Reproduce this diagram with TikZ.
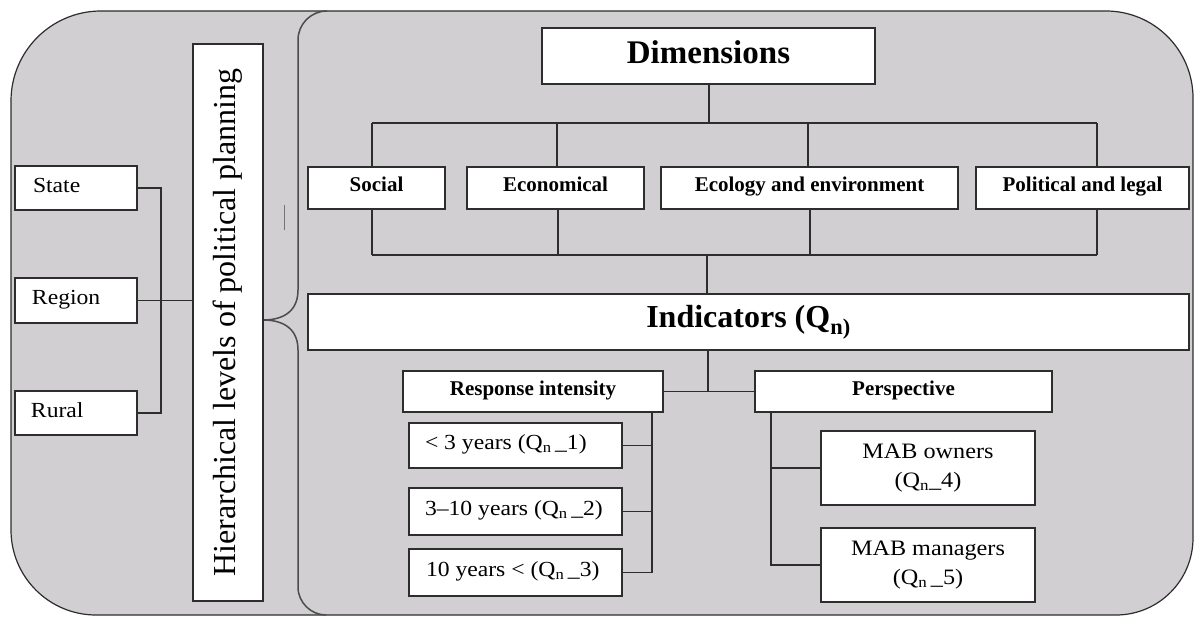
\documentclass[tikz,border=0pt]{standalone}
\usepackage{fontspec}
\setmainfont{Liberation Serif}
\newfontfamily\widefont[FakeStretch=1.1]{Liberation Serif}
\usetikzlibrary{calc}
\definecolor{bggray}{RGB}{209,207,209}
\definecolor{linec}{RGB}{45,45,45}
\newcommand{\lbtext}[3]{\makebox[#1][l]{\hspace*{#2}#3}}
\begin{document}
\begin{tikzpicture}[x=1pt,y=-1pt,
  box/.style={draw=linec, fill=white, line width=1.2pt, inner sep=0pt},
  conn/.style={draw=linec, line width=1.2pt},
  bsmall/.style={font=\fontsize{21}{25}\selectfont\bfseries, text height=14pt, text depth=6pt},
  rsmall/.style={font=\widefont\fontsize{21.5}{25}\selectfont, text height=14pt, text depth=5.5pt},
  rmab/.style={font=\widefont\fontsize{22}{29}\selectfont, align=center}]
\useasboundingbox (0,0) rectangle (1194,617);
% outer panel
\draw[fill=bggray, draw=linec, line width=1.2pt]
  (101,11) -- (1106,11) .. controls (1154,11) and (1193,50) .. (1193,98)
  -- (1193,538) .. controls (1193,580.5) and (1158.5,615) .. (1116,615)
  -- (96,615) .. controls (49.1,615) and (11,576.9) .. (11,530)
  -- (11,101) .. controls (11,51.3) and (51.3,11) .. (101,11) -- cycle;
% inner brace
\draw[draw=black!70, line width=1.5pt]
  (327,11) .. controls (311,11) and (298,24) .. (298,40)
  -- (298,290) .. controls (298,310) and (285,320) .. (263,320)
  .. controls (285,320) and (298,330) .. (298,350)
  -- (298,587) .. controls (298,602.5) and (311,615) .. (326,615);
\draw[black!55, line width=0.8pt] (284,205) -- (284,230);

% left column
\node[box, rotate=90, minimum width=557pt, minimum height=70pt,
      font=\fontsize{32}{36}\selectfont] (hier) at (228,322.5) {Hierarchical levels of political planning};
\node[box, rsmall, minimum width=122pt, minimum height=44pt] (state) at (76,188) {\lbtext{122pt}{18pt}{State}};
\node[box, rsmall, minimum width=122pt, minimum height=45pt] (region) at (76,300.5) {\lbtext{122pt}{17pt}{Region}};
\node[box, rsmall, minimum width=122pt, minimum height=44pt] (rural) at (76,413) {\lbtext{122pt}{16pt}{Rural}};
\coordinate (jl) at (161,0);
\draw[conn] (state.east) -| (jl |- rural.east) -- (rural.east);
\draw[conn] (region.east) -- (region.east -| hier.north);

% dimensions
\node[box, minimum width=333pt, minimum height=56pt, text depth=8pt, font=\fontsize{33}{38}\selectfont\bfseries] (dims) at (708.5,56) {Dimensions};
\node[box, bsmall, minimum width=137pt, minimum height=42pt] (soc) at (376.5,188) {Social};
\node[box, bsmall, minimum width=177pt, minimum height=42pt] (eco) at (555.5,188) {Economical};
\node[box, bsmall, minimum width=297pt, minimum height=42pt] (env) at (809.5,188) {Ecology and environment};
\node[box, bsmall, minimum width=213pt, minimum height=42pt] (pol) at (1082.5,188) {Political and legal};
\coordinate (t0) at (709,123);
\coordinate (t1) at (372,123);
\coordinate (t2) at (557,123);
\coordinate (t3) at (808,123);
\coordinate (t4) at (1097,123);
\draw[conn] (dims.south -| t0) -- (t0);
\draw[conn] (t1) -- (t4);
\draw[conn] (t1) -- (t1 |- soc.north);
\draw[conn] (t2) -- (t2 |- eco.north);
\draw[conn] (t3) -- (t3 |- env.north);
\draw[conn] (t4) -- (t4 |- pol.north);
\coordinate (b0) at (707,255);
\coordinate (b1) at (372,255);
\coordinate (b2) at (558,255);
\coordinate (b3) at (810,255);
\coordinate (b4) at (1097,255);
\draw[conn] (b1) -- (b4);
\draw[conn] (b1 |- soc.south) -- (b1);
\draw[conn] (b2 |- eco.south) -- (b2);
\draw[conn] (b3 |- env.south) -- (b3);
\draw[conn] (b4 |- pol.south) -- (b4);

% indicators
\node[box, minimum width=881pt, minimum height=56pt, font=\fontsize{32}{36}\selectfont\bfseries] (ind) at (748.5,322) {Indicators (Q\textsubscript{n)}};
\draw[conn] (b0) -- (b0 |- ind.north);
\node[box, bsmall, minimum width=260pt, minimum height=41pt] (resp) at (533,391.5) {Response intensity};
\node[box, bsmall, minimum width=297pt, minimum height=41pt] (persp) at (903.5,391.5) {Perspective};
\coordinate (i0) at (708,391.5);
\draw[conn] (i0 |- ind.south) -- (i0);
\draw[conn] (resp.east) -- (persp.west);

\node[box, rsmall, minimum width=213pt, minimum height=45pt] (r1) at (515.5,445.5) {\lbtext{213pt}{16pt}{< 3 years (Q\textsubscript{n}\,\_1)}};
\node[box, rsmall, minimum width=213pt, minimum height=47pt] (r2) at (515.5,511.5) {\lbtext{213pt}{16pt}{3–10 years (Q\textsubscript{n}\,\_2)}};
\node[box, rsmall, minimum width=213pt, minimum height=47pt] (r3) at (515.5,572.5) {\lbtext{213pt}{17pt}{10 years < (Q\textsubscript{n}\,\_3)}};
\coordinate (rv) at (652,0);
\draw[conn] (resp.south -| rv) |- (r3.east);
\draw[conn] (r1.east) -- (r1.east -| rv);
\draw[conn] (r2.east) -- (r2.east -| rv);

\node[box, rmab, minimum width=214pt, minimum height=74pt] (p1) at (928,468) {MAB owners\\(Q\textsubscript{n}\_4)};
\node[box, rmab, minimum width=214pt, minimum height=74pt] (p2) at (928,565) {MAB managers\\(Q\textsubscript{n}\,\_5)};
\coordinate (pv) at (771,0);
\draw[conn] (persp.south -| pv) |- (p2.west);
\draw[conn] (p1.west) -- (p1.west -| pv);
\end{tikzpicture}
\end{document}
